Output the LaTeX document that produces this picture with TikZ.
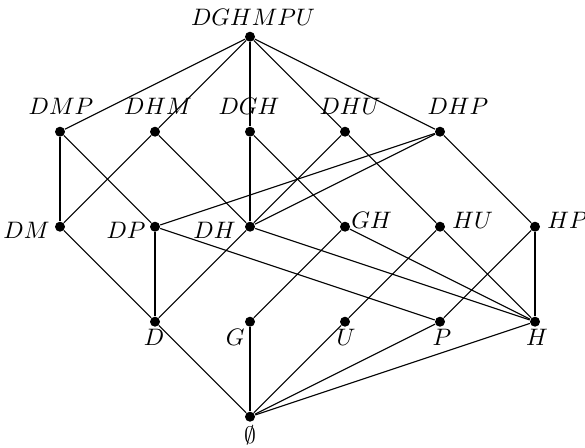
\documentclass[tikz,border=0pt]{standalone}
\begin{document}
\begin{tikzpicture}[x=0.42pt,y=-0.42pt,
  dot/.style={circle,fill=black,inner sep=0pt,minimum size=4.2pt},
  lbl/.style={inner sep=0pt},
  edge/.style={draw=black,line width=0.45pt}]
\useasboundingbox (0,0) rectangle (585,447);
% level 4
\node[dot] (dghmpu) at (250,36.7) {};
% level 3
\node[dot] (dmp) at (60,131.7) {};
\node[dot] (dhm) at (155,131.7) {};
\node[dot] (dgh) at (250,131.7) {};
\node[dot] (dhu) at (345,131.7) {};
\node[dot] (dhp) at (440,131.7) {};
% level 2
\node[dot] (dm) at (60,226.7) {};
\node[dot] (dp) at (155,226.7) {};
\node[dot] (dh) at (250,226.7) {};
\node[dot] (gh) at (345,226.7) {};
\node[dot] (hu) at (440,226.7) {};
\node[dot] (hp) at (535,226.7) {};
% level 1
\node[dot] (d) at (155,321.7) {};
\node[dot] (g) at (250,321.7) {};
\node[dot] (u) at (345,321.7) {};
\node[dot] (p) at (440,321.7) {};
\node[dot] (h) at (535,321.7) {};
% level 0
\node[dot] (e) at (250,416.7) {};

% labels
\node[lbl,anchor=base] (ldghmpu) at (253,25) {$DGHMPU$};
\node[lbl,anchor=base] (ldmp) at (61,114.5) {$DMP$};
\node[lbl,anchor=base] (ldhm) at (158,114.5) {$DHM$};
\node[lbl,anchor=base] (ldgh) at (249,114.5) {$DGH$};
\node[lbl,anchor=base] (ldhu) at (350,114.5) {$DHU$};
\node[lbl,anchor=base] (ldhp) at (458,114.5) {$DHP$};
\node[lbl,anchor=base east] (ldm) at (50,238) {$DM$};
\node[lbl,anchor=base east] (ldp) at (146,238) {$DP$};
\node[lbl,anchor=base east] (ldh) at (236,238) {$DH$};
\node[lbl,anchor=base west] (lgh) at (351,228) {$GH$};
\node[lbl,anchor=base west] (lhu) at (452,228) {$HU$};
\node[lbl,anchor=base west] (lhp) at (547,228) {$HP$};
\node[lbl,anchor=base] (ld) at (154,345) {$D$};
\node[lbl,anchor=base east] (lg) at (245,345) {$G$};
\node[lbl,anchor=base] (lu) at (346,345) {$U$};
\node[lbl,anchor=base] (lp) at (442,345) {$P$};
\node[lbl,anchor=base] (lh) at (537,345) {$H$};
\node[lbl,anchor=base] (le) at (250,443) {$\emptyset$};

% edges top
\foreach \a in {dmp,dhm,dgh,dhu,dhp} \draw[edge] (dghmpu) -- (\a);
% level 3 -> 2
\draw[edge] (dmp) -- (dm);
\draw[edge] (dmp) -- (dp);
\draw[edge] (dhm) -- (dm);
\draw[edge] (dhm) -- (dh);
\draw[edge] (dgh) -- (dh);
\draw[edge] (dgh) -- (gh);
\draw[edge] (dhu) -- (dh);
\draw[edge] (dhu) -- (hu);
\draw[edge] (dhp) -- (dp);
\draw[edge] (dhp) -- (dh);
\draw[edge] (dhp) -- (hp);
% level 2 -> 1
\draw[edge] (dm) -- (d);
\draw[edge] (dp) -- (d);
\draw[edge] (dp) -- (p);
\draw[edge] (dh) -- (d);
\draw[edge] (dh) -- (h);
\draw[edge] (gh) -- (g);
\draw[edge] (gh) -- (h);
\draw[edge] (hu) -- (u);
\draw[edge] (hu) -- (h);
\draw[edge] (hp) -- (p);
\draw[edge] (hp) -- (h);
% level 1 -> 0
\foreach \a in {d,g,u,p,h} \draw[edge] (\a) -- (e);
\end{tikzpicture}
\end{document}
